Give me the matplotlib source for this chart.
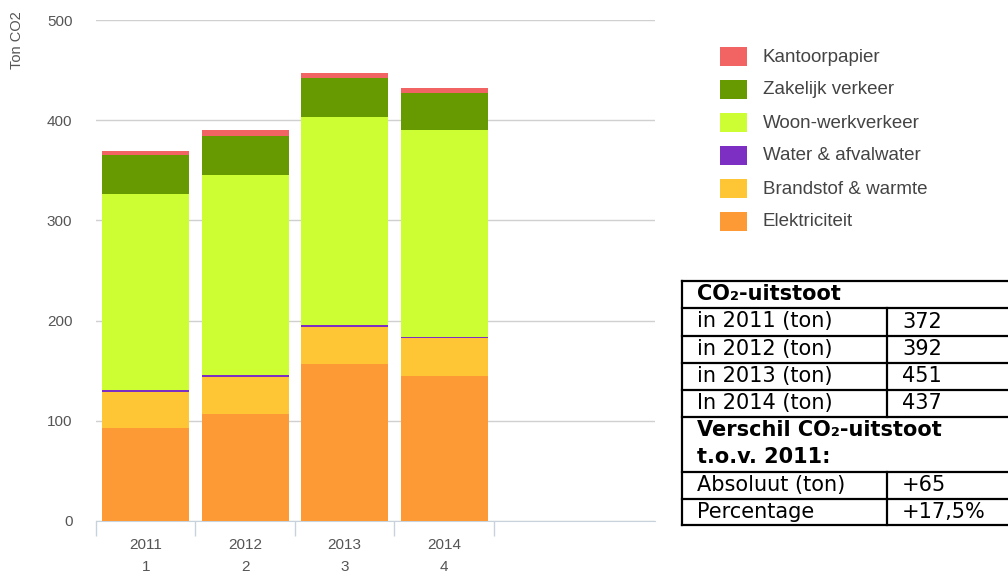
import matplotlib
matplotlib.use("Agg")
import matplotlib.pyplot as plt
from matplotlib.patches import Rectangle
import numpy as np

# data
years = ["2011", "2012", "2013", "2014"]
year_idx = ["1", "2", "3", "4"]

elektriciteit = [93, 107, 157, 145]
brandstof = [36, 37, 37, 38]
water = [1.5, 1.5, 1.5, 0.5]
woon_werk = [196, 200, 208, 207]
zakelijk = [39, 39, 39, 37]
kantoorpapier = [4, 6, 5, 5]

series_names = ["Elektriciteit", "Brandstof & warmte", "Water & afvalwater",
                "Woon-werkverkeer", "Zakelijk verkeer", "Kantoorpapier"]
series_colors = ["#fe9a35", "#fec635", "#7d2fc4", "#ccfe33", "#669a00", "#f26464"]

# table next to the chart
table_rows = [("in 2011 (ton)", "372"), ("in 2012 (ton)", "392"),
              ("in 2013 (ton)", "451"), ("In 2014 (ton)", "437")]
diff_rows = [("Absoluut (ton)", "+65"), ("Percentage", "+17,5%")]

plt.rcParams['font.family'] = ['Liberation Sans', 'DejaVu Sans']

W, H = 1008, 578
fig = plt.figure(figsize=(W / 100, H / 100), dpi=100)
ax = fig.add_axes([96 / W, 1 - 521 / H, (655 - 96) / W, 501 / H])

series = [elektriciteit, brandstof, water, woon_werk, zakelijk, kantoorpapier]
x = np.arange(len(years))
bottom = np.zeros(len(years))
for vals, col in zip(series, series_colors):
    ax.bar(x, vals, bottom=bottom, width=0.875, color=col, zorder=3, linewidth=0)
    bottom += np.array(vals)

ax.set_xlim(-0.5, 5.12)
ax.set_ylim(0, 500)
ax.set_yticks([0, 100, 200, 300, 400, 500])
ax.yaxis.grid(True, color="#d0d0d0", linewidth=1, zorder=0)
for s in ["left", "right", "top"]:
    ax.spines[s].set_visible(False)
ax.spines["bottom"].set_color("#c8d2dc")
ax.tick_params(axis="y", length=0, pad=17, labelsize=11, labelcolor="#555555")

ax.set_xticks(x)
ax.set_xticklabels([y + "\n" + i for y, i in zip(years, year_idx)],
                   linespacing=1.75, fontsize=11, color="#555555")
ax.tick_params(axis="x", which="major", length=0, pad=12)
ax.set_xticks(np.arange(len(years) + 1) - 0.5, minor=True)
ax.tick_params(axis="x", which="minor", length=11, color="#c8d2dc", width=1)

fig.text(17 / W, 1 - 40 / H, "Ton CO2", rotation=90, ha="center", va="center",
         fontsize=10.5, color="#555555")

# overlay in pixel coordinates for legend and table
ov = fig.add_axes([0, 0, 1, 1])
ov.set_xlim(0, W)
ov.set_ylim(H, 0)
ov.axis("off")

legend_order = list(range(len(series_names)))[::-1]
for k, si in enumerate(legend_order):
    yc = 56 + k * 33
    ov.add_patch(Rectangle((720, yc - 9), 27, 19, color=series_colors[si], linewidth=0))
    ov.text(763, yc + 1, series_names[si], va="center", ha="left", fontsize=13.5,
            color="#444444")

# table
tf = dict(family="DejaVu Sans", fontsize=15, color="black", va="center")
left, right, col = 682, 1012, 887
lw = 1.6
lines_y = [281, 308, 336, 363, 390, 417, 472, 499, 525]
for yy in lines_y:
    ov.plot([left, right], [yy, yy], color="black", lw=lw)
ov.plot([left, left], [281, 525], color="black", lw=lw)
for y0, y1 in [(308, 417), (472, 525)]:
    ov.plot([col, col], [y0, y1], color="black", lw=lw)

ov.text(697, 294, "CO₂-uitstoot", fontweight="bold", **tf)
for k, (lab, val) in enumerate(table_rows):
    yc = (lines_y[k + 1] + lines_y[k + 2]) / 2 - 0.5
    ov.text(697, yc, lab, **tf)
    ov.text(902, yc, val, **tf)
ov.text(697, 430, "Verschil CO₂-uitstoot", fontweight="bold", **tf)
ov.text(697, 457, "t.o.v. 2011:", fontweight="bold", **tf)
for k, (lab, val) in enumerate(diff_rows):
    yc = (lines_y[k + 6] + lines_y[k + 7]) / 2 - 0.5
    ov.text(697, yc, lab, **tf)
    ov.text(902, yc, val, **tf)

fig.savefig("out.png", dpi=100)
